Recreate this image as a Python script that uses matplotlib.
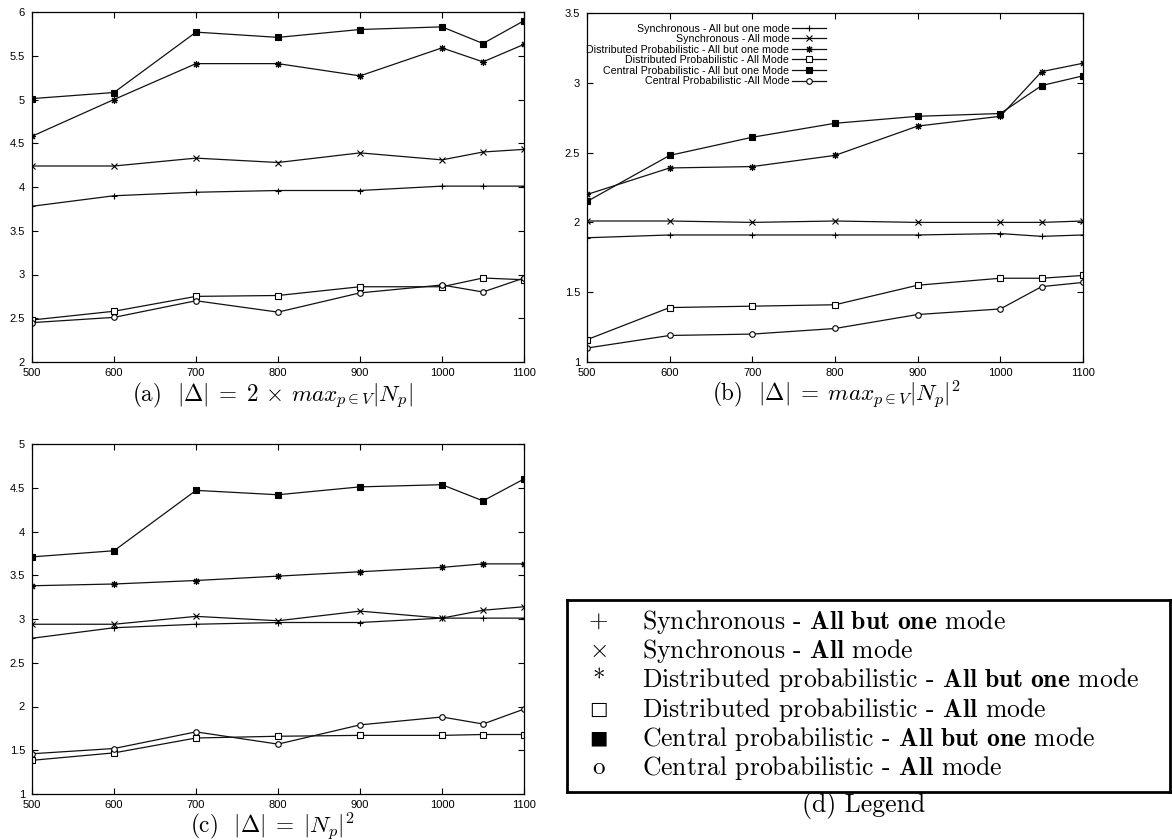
import matplotlib
matplotlib.use("Agg")
import matplotlib.pyplot as plt
from matplotlib.ticker import FuncFormatter

plt.rcParams['mathtext.fontset'] = 'cm'
plt.rcParams['axes.unicode_minus'] = False

# x axis: number of nodes
x = [500, 600, 700, 800, 900, 1000, 1050, 1100]

# (a) |D| = 2 x max |Np|
a_sync_abo = [3.78, 3.90, 3.94, 3.96, 3.96, 4.01, 4.01, 4.01]
a_sync_all = [4.24, 4.24, 4.33, 4.28, 4.39, 4.31, 4.40, 4.43]
a_dist_abo = [4.58, 5.00, 5.41, 5.41, 5.27, 5.59, 5.43, 5.63]
a_dist_all = [2.48, 2.58, 2.75, 2.76, 2.86, 2.86, 2.96, 2.94]
a_cent_abo = [5.01, 5.08, 5.77, 5.71, 5.80, 5.83, 5.64, 5.90]
a_cent_all = [2.45, 2.51, 2.70, 2.57, 2.79, 2.88, 2.80, 2.96]

# (b) |D| = max |Np|^2
b_sync_abo = [1.89, 1.91, 1.91, 1.91, 1.91, 1.92, 1.90, 1.91]
b_sync_all = [2.01, 2.01, 2.00, 2.01, 2.00, 2.00, 2.00, 2.01]
b_dist_abo = [2.20, 2.39, 2.40, 2.48, 2.69, 2.76, 3.08, 3.14]
b_dist_all = [1.16, 1.39, 1.40, 1.41, 1.55, 1.60, 1.60, 1.62]
b_cent_abo = [2.15, 2.48, 2.61, 2.71, 2.76, 2.78, 2.98, 3.05]
b_cent_all = [1.10, 1.19, 1.20, 1.24, 1.34, 1.38, 1.54, 1.57]

# (c) |D| = |Np|^2
c_sync_abo = [2.78, 2.90, 2.94, 2.96, 2.96, 3.01, 3.01, 3.01]
c_sync_all = [2.94, 2.94, 3.03, 2.98, 3.09, 3.01, 3.10, 3.14]
c_dist_abo = [3.38, 3.40, 3.44, 3.49, 3.54, 3.59, 3.63, 3.63]
c_dist_all = [1.385, 1.47, 1.64, 1.66, 1.67, 1.67, 1.68, 1.68]
c_cent_abo = [3.71, 3.78, 4.47, 4.42, 4.51, 4.535, 4.35, 4.60]
c_cent_all = [1.46, 1.52, 1.71, 1.57, 1.79, 1.88, 1.80, 1.97]

gp_labels = ["Synchronous - All but one mode",
             "Synchronous - All mode",
             "Distributed Probabilistic - All but one mode",
             "Distributed Probabilistic - All Mode",
             "Central Probabilistic - All but one Mode",
             "Central Probabilistic -All Mode"]

legend_symbols = ["+", r"$\times$", "*", "\u25a1", "\u25a0", "o"]
legend_texts = [r"Synchronous - $\mathbf{All\ but\ one}$ mode",
                r"Synchronous - $\mathbf{All}$ mode",
                r"Distributed probabilistic - $\mathbf{All\ but\ one}$ mode",
                r"Distributed probabilistic - $\mathbf{All}$ mode",
                r"Central probabilistic - $\mathbf{All\ but\ one}$ mode",
                r"Central probabilistic - $\mathbf{All}$ mode"]

# marker styles (gnuplot point types)
styles = [dict(marker='+', ms=5),
          dict(marker='x', ms=4),
          dict(marker=(8, 2, 0), ms=5),
          dict(marker='s', ms=4, mfc='white'),
          dict(marker='s', ms=4, mfc='black'),
          dict(marker='o', ms=4, mfc='white')]

W, H = 1172, 840
fig = plt.figure(figsize=(W / 100, H / 100), dpi=100)


def frac(l, t, r, b):
    return [l / W, 1 - b / H, (r - l) / W, (b - t) / H]


def draw_panel(ax, series, ymin, ymax, legend=False):
    for vals, st, lab in zip(series, styles, gp_labels):
        ax.plot(x, vals, color='#111111', lw=0.9, mec='black', mew=0.8,
                label=lab, **st)
    ax.set_xlim(500, 1100)
    ax.set_ylim(ymin, ymax)
    ax.set_xticks([500, 600, 700, 800, 900, 1000, 1100])
    yt = [ymin + 0.5 * i for i in range(int((ymax - ymin) / 0.5) + 1)]
    ax.set_yticks(yt)
    ax.yaxis.set_major_formatter(FuncFormatter(lambda v, p: '%g' % v))
    ax.tick_params(direction='in', top=True, right=True, length=4,
                   width=0.8, labelsize=8, pad=5)
    ax.tick_params(axis='x', pad=4)
    for lab in ax.get_xticklabels() + ax.get_yticklabels():
        lab.set_fontfamily('Liberation Sans')
    for s in ax.spines.values():
        s.set_linewidth(0.9)
    if legend:
        ax.legend(loc='upper left', bbox_to_anchor=(-0.012, 0.985),
                  markerfirst=False, frameon=False, borderpad=0,
                  handlelength=3.1, handletextpad=0.3, labelspacing=0.05,
                  prop={'family': 'Liberation Sans', 'size': 7.7})


ax_a = fig.add_axes(frac(32, 12, 524, 362))
draw_panel(ax_a, [a_sync_abo, a_sync_all, a_dist_abo, a_dist_all, a_cent_abo, a_cent_all], 2, 6)

ax_b = fig.add_axes(frac(587, 13, 1083, 362))
draw_panel(ax_b, [b_sync_abo, b_sync_all, b_dist_abo, b_dist_all, b_cent_abo, b_cent_all], 1, 3.5, legend=True)

ax_c = fig.add_axes(frac(32, 444, 524, 794))
draw_panel(ax_c, [c_sync_abo, c_sync_all, c_dist_abo, c_dist_all, c_cent_abo, c_cent_all], 1, 5)

# legend box (d)
ax_d = fig.add_axes(frac(567, 600, 1170, 792))
ax_d.set_xlim(0, 1)
ax_d.set_ylim(0, 1)
ax_d.set_xticks([])
ax_d.set_yticks([])
for s in ax_d.spines.values():
    s.set_linewidth(2)
sym_sizes = [18, 18, 18, 14, 14, 18]
for i, (sym, txt) in enumerate(zip(legend_symbols, legend_texts)):
    yy = 0.885 - i * 0.152
    ax_d.text(0.052, yy, sym, ha='center', va='center', fontsize=sym_sizes[i],
              family=['cmr10', 'DejaVu Sans'], transform=ax_d.transAxes)
    ax_d.text(0.124, yy, txt, ha='left', va='center', fontsize=18.5,
              family='cmr10', transform=ax_d.transAxes)

cap = dict(ha='center', va='baseline', fontsize=16.7, family='cmr10')
fig.text(272 / W, 1 - 401 / H, r"(a)  $|\Delta|\;=\;2\,\times\,max_{p\in V}|N_p|$", **cap)
fig.text(836 / W, 1 - 401 / H, r"(b)  $|\Delta|\;=\;max_{p\in V}|N_p|^2$", **cap)
fig.text(272 / W, 1 - 833 / H, r"(c)  $|\Delta|\;=\;|N_p|^2$", **cap)
fig.text(864 / W, 1 - 812 / H, "(d) Legend", ha='center', va='baseline',
         fontsize=18.5, family='cmr10')

fig.savefig("out.png", dpi=100)
